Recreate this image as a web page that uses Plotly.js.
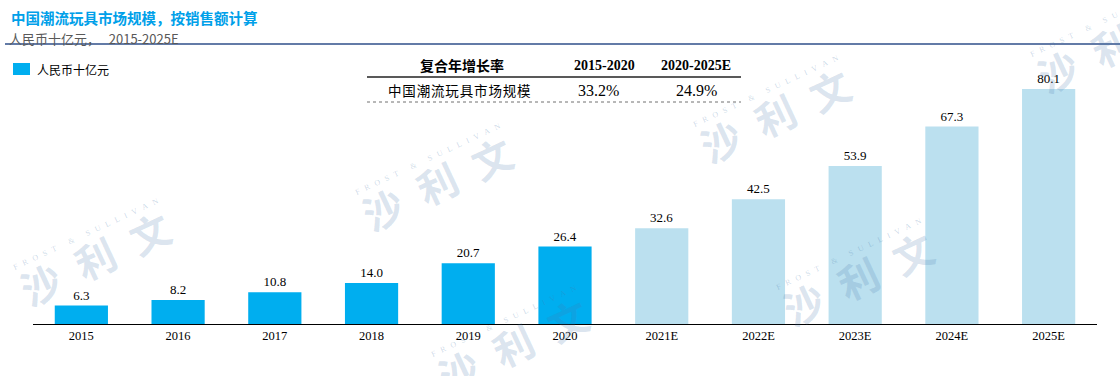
<!DOCTYPE html>
<html>
<head>
<meta charset="utf-8">
<script src="https://cdn.plot.ly/plotly-3.0.1.min.js"></script>
<style>
html,body{margin:0;padding:0;background:#fff;}
#chart{width:1120px;height:376px;}
</style>
</head>
<body>
<div id="chart"></div>
<script>
// ---- data ----
const actualYears = ["2015","2016","2017","2018","2019","2020"];
const actualValues = [6.3, 8.2, 10.8, 14.0, 20.7, 26.4];
const forecastYears = ["2021E","2022E","2023E","2024E","2025E"];
const forecastValues = [32.6, 42.5, 53.9, 67.3, 80.1];
const seriesName = "人民币十亿元";
const chartTitle = "中国潮流玩具市场规模，按销售额计算";
const chartSubtitle = "人民币十亿元，&nbsp;&nbsp;&nbsp;2015-2025E";
const cagrHeader = ["复合年增长率", "2015-2020", "2020-2025E"];
const cagrRow = ["中国潮流玩具市场规模", "33.2%", "24.9%"];

// ---- geometry helpers (pixel -> paper) ----
const W = 1120, H = 376;
const mL = 33, mR = 23, mT = 60, mB = 52;
const pw = W - mL - mR, ph = H - mT - mB;
const px = x => (x - mL) / pw;
const py = y => (H - mB - y) / ph;

const serif = "Liberation Serif, Times New Roman, serif";
const cjk = "Noto Sans CJK SC, sans-serif";
const actualColor = "#00AEEF";
const forecastColor = "#BBE0EF";

const fmt = v => v.toFixed(1);

const traces = [
  {
    type: "bar", name: seriesName,
    x: actualYears, y: actualValues,
    marker: {color: actualColor},
    text: actualValues.map(fmt), textposition: "outside",
    textfont: {family: serif, size: 13, color: "#000"},
    cliponaxis: false, hoverinfo: "x+y"
  },
  {
    type: "bar", name: seriesName + " (E)",
    x: forecastYears, y: forecastValues,
    marker: {color: forecastColor},
    text: forecastValues.map(fmt), textposition: "outside",
    textfont: {family: serif, size: 13, color: "#000"},
    cliponaxis: false, hoverinfo: "x+y"
  }
];

const annotations = [];
const shapes = [];

// title & subtitle
annotations.push({xref: "paper", yref: "paper", x: px(9), y: py(17), xanchor: "left", yanchor: "middle",
  text: "<b>" + chartTitle + "</b>", showarrow: false, font: {family: cjk, size: 14.5, color: "#00A0E9"}});
annotations.push({xref: "paper", yref: "paper", x: px(7), y: py(38), xanchor: "left", yanchor: "middle",
  text: chartSubtitle, showarrow: false, font: {family: cjk, size: 13, color: "#595959"}});
shapes.push({type: "line", xref: "paper", yref: "paper", x0: px(5), x1: px(1120), y0: py(44), y1: py(44),
  line: {color: "#2F4F8A", width: 1.5}});

// legend (drawn manually to match the reference's placement)
shapes.push({type: "rect", xref: "paper", yref: "paper", x0: px(13), x1: px(30), y0: py(75), y1: py(63),
  fillcolor: actualColor, line: {width: 0}});
annotations.push({xref: "paper", yref: "paper", x: px(35), y: py(70), xanchor: "left", yanchor: "middle",
  text: seriesName, showarrow: false, font: {family: cjk, size: 12, color: "#000"}});

// CAGR table
const colX = [462, 604, 696];
cagrHeader.forEach((t, i) => {
  annotations.push({xref: "paper", yref: "paper", x: px(colX[i]), y: py(65), xanchor: "center", yanchor: "middle",
    text: "<b>" + t + "</b>", showarrow: false,
    font: {family: i === 0 ? cjk : serif, size: 14, color: "#000"}});
});
const rowX = [459, 598, 696];
cagrRow.forEach((t, i) => {
  annotations.push({xref: "paper", yref: "paper", x: px(rowX[i]), y: py(90), xanchor: "center", yanchor: "middle",
    text: i === 0 ? t.split("").join("\u200A") : t, showarrow: false,
    font: {family: i === 0 ? cjk : serif, size: i === 0 ? 13.5 : 16, color: "#000"}});
});
shapes.push({type: "line", xref: "paper", yref: "paper", x0: px(367), x1: px(741), y0: py(77), y1: py(77),
  line: {color: "#595959", width: 2}});
shapes.push({type: "line", xref: "paper", yref: "paper", x0: px(367), x1: px(741), y0: py(102), y1: py(102),
  line: {color: "#707070", width: 1, dash: "dot"}});

// watermarks
const wmCenters = [[95,258],[437,183],[775,115],[1112,45],[513,345],[858,278]];
wmCenters.forEach(([cx, cy]) => {
  annotations.push({xref: "paper", yref: "paper", x: px(cx), y: py(cy), xanchor: "center", yanchor: "middle",
    text: "<b>沙\u2002利\u2002文</b>", textangle: -25, showarrow: false,
    font: {family: cjk, size: 40, color: "rgba(70,120,170,0.2)"}});
  annotations.push({xref: "paper", yref: "paper", x: px(cx - 10), y: py(cy - 24), xanchor: "center", yanchor: "middle",
    text: "FROST & SULLIVAN".split("").join("\u2002\u2009"), textangle: -25, showarrow: false,
    font: {family: serif, size: 8, color: "rgba(70,120,170,0.28)"}});
});

const layout = {
  width: W, height: H,
  margin: {l: mL, r: mR, t: mT, b: mB, pad: 0, autoexpand: false},
  paper_bgcolor: "#fff", plot_bgcolor: "rgba(0,0,0,0)",
  barmode: "group", bargap: 0.45,
  font: {family: serif, size: 12, color: "#000"},
  xaxis: {
    type: "category", categoryorder: "array", categoryarray: actualYears.concat(forecastYears),
    showline: true, linecolor: "#000", linewidth: 1.3, ticks: "", showgrid: false, zeroline: false,
    tickfont: {family: serif, size: 12.5, color: "#000"}, fixedrange: true, automargin: false
  },
  yaxis: {range: [0, 90], visible: false, showgrid: false, zeroline: false, fixedrange: true, automargin: false},
  showlegend: false,
  annotations: annotations, shapes: shapes
};

Plotly.newPlot("chart", traces, layout, {displayModeBar: false, staticPlot: true});
</script>
</body>
</html>
